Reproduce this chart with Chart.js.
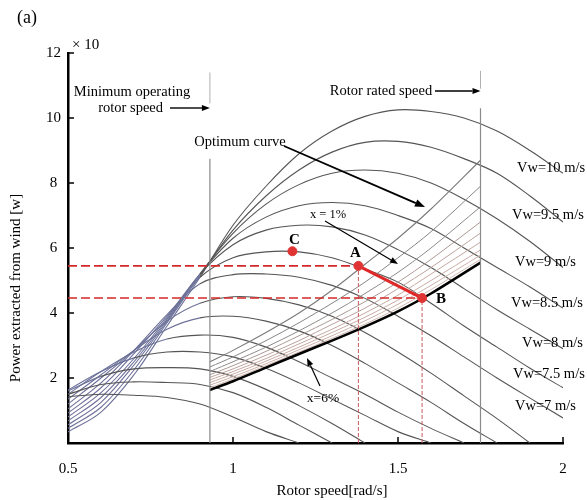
<!DOCTYPE html>
<html>
<head>
<meta charset="utf-8">
<script src="https://cdn.jsdelivr.net/npm/chart.js@4"></script>
<style>
html, body { margin: 0; padding: 0; background: #fff; }
canvas { display: block; }
</style>
</head>
<body>
<canvas id="chart" width="587" height="500"></canvas>
<script>
// rotor speed grid [rad/s] used by the power curves
const rotorSpeed = [0.5, 0.6, 0.7, 0.8, 0.9, 1.0, 1.1, 1.2, 1.3, 1.4, 1.5, 1.6, 1.7, 1.8, 1.9, 2.0];

// power curves (x10 W), one per wind speed, highest first
const vw10  = [0.34, 0.95, 2.1, 3.6, 5.1, 6.7, 7.9, 8.9, 9.6, 10.05, 10.25, 10.2, 10.0, 9.6, 9.0, 8.3];
const vw9_5 = [0.45, 1.1, 2.25, 3.7, 5.15, 6.55, 7.6, 8.4, 8.95, 9.25, 9.28, 9.1, 8.75, 8.3, 7.6, 6.8];
const vw9   = [0.56, 1.25, 2.4, 3.75, 5.2, 6.45, 7.35, 7.95, 8.3, 8.4, 8.3, 8.0, 7.5, 6.9, 6.2, 5.4];
const vw8_5 = [0.68, 1.4, 2.5, 3.8, 5.2, 6.3, 6.95, 7.3, 7.4, 7.3, 7.0, 6.6, 6.0, 5.4, 4.8, 4.15];
const vw8   = [0.8, 1.55, 2.6, 3.85, 5.2, 6.1, 6.55, 6.7, 6.65, 6.4, 5.95, 5.4, 4.75, 4.1, 3.5, 2.9];
const vw7_5 = [0.92, 1.7, 2.75, 3.9, 5.1, 5.7, 5.88, 5.88, 5.7, 5.35, 4.95, 4.3, 3.6, 2.95, 2.3, 1.7];
const vw7   = [1.05, 1.85, 2.85, 3.95, 4.9, 5.18, 5.2, 5.1, 4.85, 4.45, 3.9, 3.3, 2.65, 2.0, 1.38, 0.77];
const vw6_5 = [1.2, 2.0, 2.85, 3.75, 4.3, 4.5, 4.45, 4.25, 3.9, 3.4, 2.8, 2.15, 1.45, 0.75, 0];
const vw6   = [1.35, 2.1, 2.85, 3.5, 3.85, 3.9, 3.75, 3.45, 3.0, 2.45, 1.85, 1.25, 0.6, 0];
const vw5_5 = [1.5, 2.2, 2.8, 3.2, 3.32, 3.25, 2.95, 2.5, 2.0, 1.5, 0.95, 0.45, 0];
const vw5   = [1.63, 2.2, 2.62, 2.8, 2.8, 2.65, 2.3, 1.85, 1.35, 0.85, 0.35, 0];
const vw4_5 = [1.6, 2.05, 2.28, 2.32, 2.28, 2.05, 1.65, 1.15, 0.6, 0];
const vw4   = [1.5, 1.8, 1.88, 1.86, 1.8, 1.55, 1.1, 0.55, 0];
const vw3_5 = [1.42, 1.5, 1.47, 1.4, 1.2, 0.8, 0.35, 0];

// wind speed labels shown at the right end of the curves
const vwLabels = ["Vw=10 m/s", "Vw=9.5 m/s", "Vw=9 m/s", "Vw=8.5 m/s", "Vw=8 m/s", "Vw=7.5 m/s", "Vw=7 m/s"];

// operating range
const minSpeed = 0.93;
const ratedSpeed = 1.75;

// curves x = 1% ... x = 6% inside the operating range
const cpSpeed = [0.93, 1.0, 1.1, 1.2, 1.3, 1.4, 1.5, 1.6, 1.75];
const x1 = [2.5, 2.85, 3.4, 4.0, 4.7, 5.5, 6.3, 7.2, 8.7];
const x2 = [2.34, 2.65, 3.15, 3.7, 4.3, 4.95, 5.7, 6.5, 7.9];
const x3 = [2.2, 2.5, 2.95, 3.45, 4.0, 4.6, 5.25, 6.0, 7.27];
const x4 = [2.1, 2.38, 2.82, 3.3, 3.8, 4.35, 4.95, 5.65, 6.8];
const x5 = [2.02, 2.28, 2.7, 3.15, 3.65, 4.15, 4.75, 5.4, 6.46];
const x6 = [1.94, 2.2, 2.6, 3.05, 3.5, 4.0, 4.55, 5.2, 6.18];
const x7 = [1.86, 2.12, 2.52, 2.95, 3.4, 3.87, 4.4, 5.0, 5.94];
const x8 = [1.78, 2.04, 2.44, 2.87, 3.3, 3.76, 4.27, 4.85, 5.78];
const x9 = [1.7, 1.97, 2.38, 2.8, 3.22, 3.66, 4.15, 4.72, 5.65];
const x6pct = [1.63, 1.9, 2.32, 2.74, 3.15, 3.58, 4.05, 4.6, 5.55];

// operating points
const pointA = { x: 1.38, y: 5.45 };
const pointB = { x: 1.573, y: 4.46 };
const pointC = { x: 1.18, y: 5.9 };

const yTicks = [2, 4, 6, 8, 10, 12];
const xTicks = [1, 1.5, 2];

const serif = "'Liberation Serif', 'DejaVu Serif', serif";

let toPoints = (xs, ys) => ys.map((v, i) => ({ x: xs[i], y: v }));

let powerCurve = (ys) => ({
	data: toPoints(rotorSpeed, ys),
	borderColor: "#555",
	borderWidth: 1.1,
	pointRadius: 0,
	tension: 0.35,
	segment: {
		borderColor: (c) => (c.p1.parsed.x <= 0.95 && c.p1.parsed.y > c.p0.parsed.y + 0.3) ? "#6c7198" : undefined
	}
});

let cpCurve = (ys, color, width) => ({
	data: toPoints(cpSpeed, ys),
	borderColor: color,
	borderWidth: width,
	pointRadius: 0,
	tension: 0.3
});

let straight = (pts, color, width, dash) => ({
	data: pts,
	borderColor: color,
	borderWidth: width,
	borderDash: dash || [],
	pointRadius: 0,
	tension: 0
});

// listed bottom layer first; reversed below because Chart.js paints index 0 last
const layers = [
	...[vw10, vw9_5, vw9, vw8_5, vw8, vw7_5, vw7, vw6_5, vw6, vw5_5, vw5, vw4_5, vw4, vw3_5].map(powerCurve),
	cpCurve(x9, "#d2b8b0", 1),
	cpCurve(x8, "#cdb0a8", 1),
	cpCurve(x7, "#c9aca4", 1),
	cpCurve(x6, "#c4a8a0", 1),
	cpCurve(x5, "#bba29c", 1),
	cpCurve(x4, "#aa9894", 1),
	cpCurve(x3, "#8f8a8a", 1),
	cpCurve(x2, "#858585", 1),
	cpCurve(x1, "#7a7a7a", 1.1),
	cpCurve(x6pct, "#000", 2.6),
	straight([{ x: minSpeed, y: 0 }, { x: minSpeed, y: 8.75 }], "#8a8a8a", 1.2),
	straight([{ x: minSpeed, y: 10.45 }, { x: minSpeed, y: 11.4 }], "#b0b0b0", 1),
	straight([{ x: ratedSpeed, y: 0 }, { x: ratedSpeed, y: 10.3 }], "#8a8a8a", 1.2),
	straight([{ x: ratedSpeed, y: 10.9 }, { x: ratedSpeed, y: 11.45 }], "#b0b0b0", 1),
	straight([{ x: pointA.x, y: 0 }, { x: pointA.x, y: pointA.y }], "#c85a5a", 1, [4, 2]),
	straight([{ x: pointB.x, y: 0 }, { x: pointB.x, y: pointB.y }], "#c85a5a", 1, [4, 2]),
	straight([{ x: 0.5, y: pointA.y }, { x: pointA.x, y: pointA.y }], "#d42a2a", 1.6, [9, 4]),
	straight([{ x: 0.5, y: pointB.y }, { x: pointB.x, y: pointB.y }], "#d42a2a", 1.6, [9, 4]),
	straight([pointA, pointB], "#e02828", 3),
	{
		data: [pointA, pointB, pointC],
		showLine: false,
		pointRadius: 4.5,
		pointBackgroundColor: "#e03434",
		pointBorderColor: "#e03434"
	}
];
const datasets = layers.slice().reverse();

let line = (ctx, xa, ya, xb, yb) => {
	ctx.beginPath();
	ctx.moveTo(xa, ya);
	ctx.lineTo(xb, yb);
	ctx.stroke();
};

let arrow = (ctx, xa, ya, xb, yb, width, head) => {
	const a = Math.atan2(yb - ya, xb - xa);
	const bx = xb - head * Math.cos(a);
	const by = yb - head * Math.sin(a);
	ctx.lineWidth = width;
	line(ctx, xa, ya, bx, by);
	ctx.beginPath();
	ctx.moveTo(xb, yb);
	ctx.lineTo(bx - head * 0.38 * Math.sin(a), by + head * 0.38 * Math.cos(a));
	ctx.lineTo(bx + head * 0.38 * Math.sin(a), by - head * 0.38 * Math.cos(a));
	ctx.closePath();
	ctx.fill();
};

let text = (ctx, str, px, py, size, align, weight) => {
	ctx.font = `${weight || "normal"} ${size}px ${serif}`;
	ctx.textAlign = align || "center";
	ctx.textBaseline = "middle";
	ctx.fillText(str, px, py);
};

const overlay = {
	id: "overlay",
	afterDraw(chart) {
		const { ctx, scales: { x, y } } = chart;
		ctx.save();
		ctx.strokeStyle = "#000";
		ctx.fillStyle = "#000";

		// inward tick marks
		ctx.lineWidth = 1.5;
		yTicks.forEach((v) => {
			const py = y.getPixelForValue(v);
			line(ctx, x.left, py, x.left + 6, py);
		});
		xTicks.forEach((v) => {
			const px = x.getPixelForValue(v);
			line(ctx, px, y.bottom, px, y.bottom - 6);
		});

		// corner texts
		text(ctx, "(a)", 27, 18, 18);
		text(ctx, "× 10", 72, 45, 15, "left");

		// axis titles
		text(ctx, "Rotor speed[rad/s]", 332, 491, 15);
		ctx.save();
		ctx.translate(16, 288);
		ctx.rotate(-Math.PI / 2);
		text(ctx, "Power extracted from wind [w]", 0, 0, 15);
		ctx.restore();

		// annotations with arrows
		const minPx = x.getPixelForValue(minSpeed);
		const ratedPx = x.getPixelForValue(ratedSpeed);
		text(ctx, "Minimum operating", 132, 92, 14.5);
		text(ctx, "rotor speed", 163, 108, 14.5, "right");
		arrow(ctx, 170, 108, minPx, 108, 1.4, 8);
		text(ctx, "Rotor rated speed", 381, 91, 14.5);
		arrow(ctx, 435, 91, ratedPx, 91, 1.4, 8);
		text(ctx, "Optimum curve", 240, 142, 14.5);
		arrow(ctx, 284, 146, 425, 207, 1.9, 10);
		text(ctx, "x = 1%", 328, 215, 12.5);
		arrow(ctx, 325, 221, 398, 264, 1.2, 8);
		text(ctx, "x=6%", 323, 398, 13.5);
		arrow(ctx, 320, 386, 307, 358, 1.2, 8);

		// operating point labels
		text(ctx, "C", x.getPixelForValue(pointC.x) + 2, y.getPixelForValue(pointC.y) - 11, 15, "center", "bold");
		text(ctx, "A", x.getPixelForValue(pointA.x) - 3, y.getPixelForValue(pointA.y) - 13, 15, "center", "bold");
		text(ctx, "B", x.getPixelForValue(pointB.x) + 19, y.getPixelForValue(pointB.y) + 1, 15, "center", "bold");

		// wind speed labels
		const labelPos = [[517, 168], [512, 215], [515, 262], [511, 303], [522, 343], [513, 374], [515, 406]];
		vwLabels.forEach((s, i) => text(ctx, s, labelPos[i][0], labelPos[i][1], 14.5, "left"));

		ctx.restore();
	}
};

new Chart(document.getElementById("chart"), {
	type: "line",
	data: { datasets },
	options: {
		responsive: false,
		animation: false,
		devicePixelRatio: 1,
		layout: { padding: { left: 0, top: 53, right: 24, bottom: 0 } },
		plugins: { legend: { display: false }, tooltip: { enabled: false } },
		scales: {
			x: {
				type: "linear",
				min: 0.5,
				max: 2,
				afterFit: (s) => { s.height = 57; },
				grid: { display: false, drawTicks: false, tickLength: 0 },
				border: { display: true, color: "#000", width: 2.5 },
				ticks: {
					stepSize: 0.5,
					padding: 17,
					color: "#000",
					font: { family: serif, size: 15 },
					callback: (v) => v
				}
			},
			y: {
				type: "linear",
				min: 0,
				max: 12,
				afterFit: (s) => { s.width = 68; },
				grid: { display: false, drawTicks: false, tickLength: 0 },
				border: { display: true, color: "#000", width: 2.5 },
				ticks: {
					stepSize: 2,
					padding: 7,
					crossAlign: "center",
					color: "#000",
					font: { family: serif, size: 15 },
					callback: (v) => v === 0 ? "" : v
				}
			}
		}
	},
	plugins: [overlay]
});
</script>
</body>
</html>
